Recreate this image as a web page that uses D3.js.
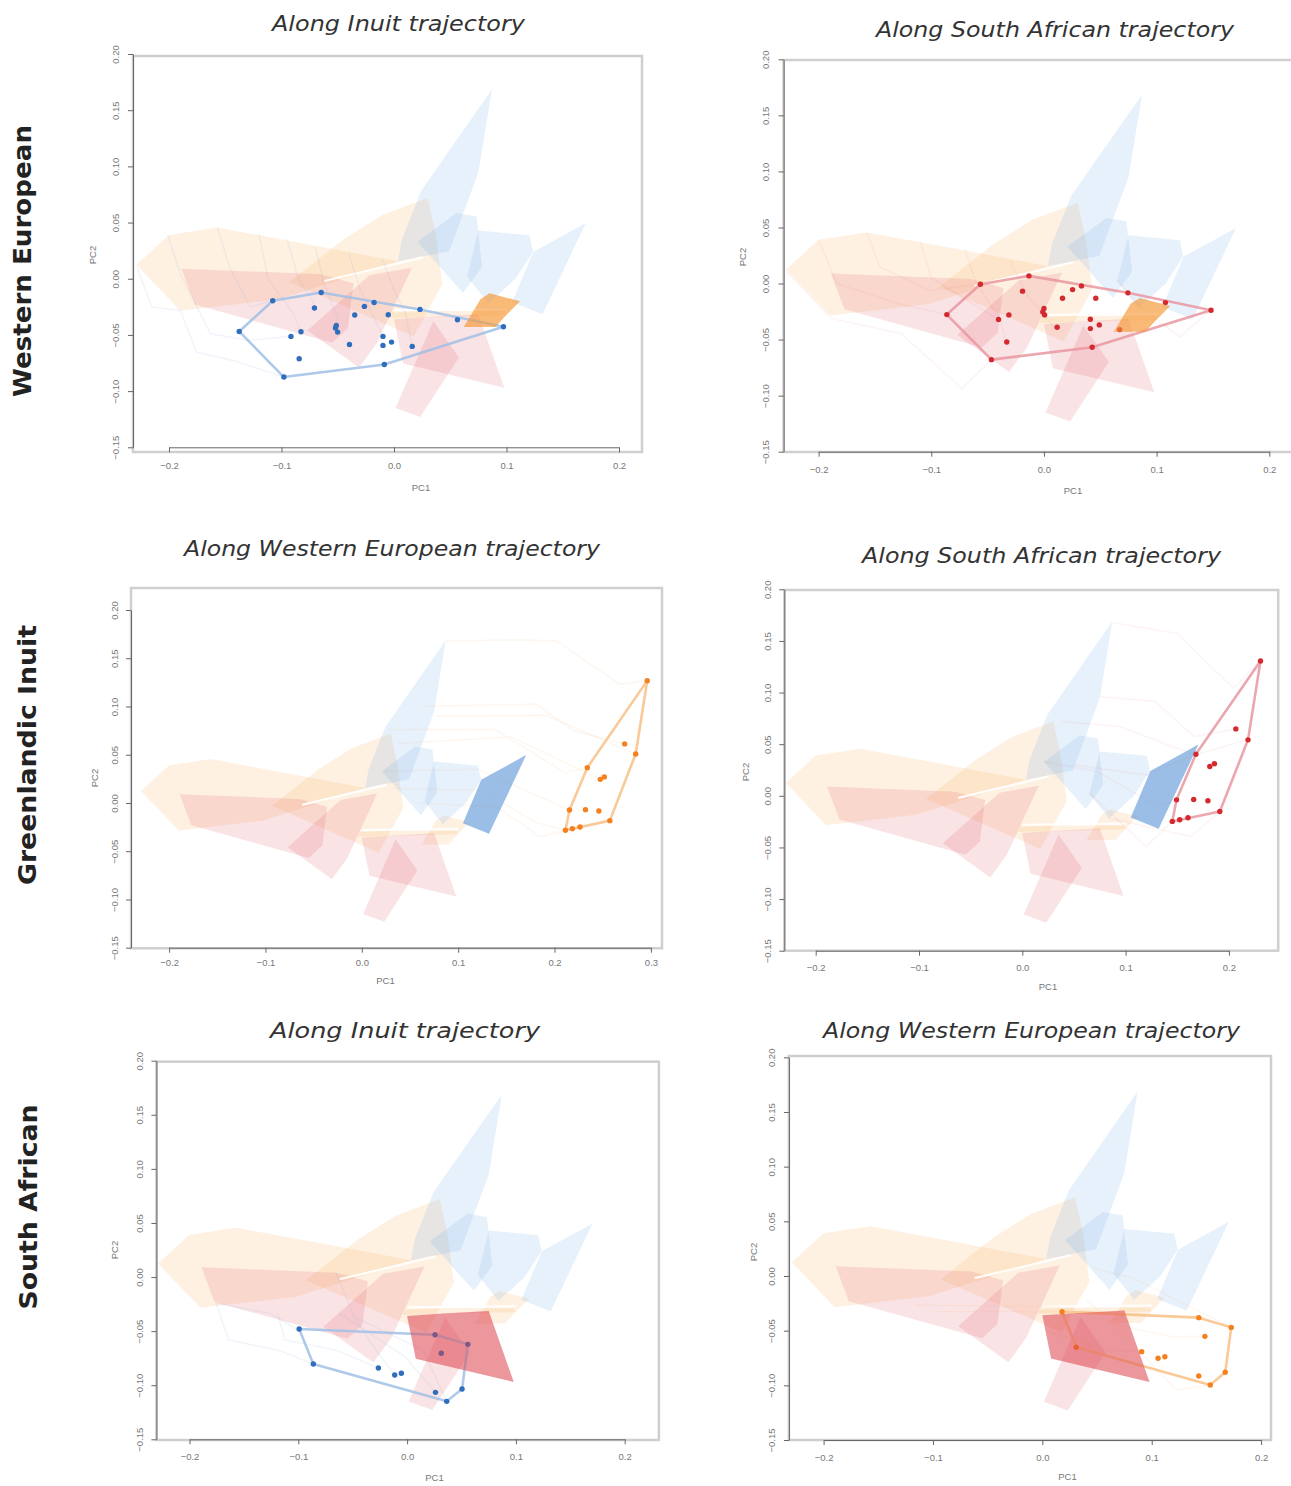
<!DOCTYPE html>
<html><head><meta charset="utf-8">
<script src="https://cdn.jsdelivr.net/npm/d3@7"></script>
<style>body{margin:0;background:#fff}</style>
</head><body><svg id="c" width="1291" height="1486"></svg>
<script>
// ---------------- DATA ----------------
const xTicksStd = [-0.2, -0.1, 0.0, 0.1, 0.2];
const xTicksWide = [-0.2, -0.1, 0.0, 0.1, 0.2, 0.3];
const yTicks = [-0.15, -0.10, -0.05, 0.00, 0.05, 0.10, 0.15, 0.20];
const rowLabels = ["Western European", "Greenlandic Inuit", "South African"];
const panelTitles = ["Along Inuit trajectory", "Along South African trajectory",
  "Along Western European trajectory", "Along South African trajectory",
  "Along Inuit trajectory", "Along Western European trajectory"];

// Convex hulls of the three groups (PC1, PC2)
const westernEuropeanHulls = [
  [[-0.229,0.0125],[-0.200,0.039],[-0.157,0.0455],[-0.089,0.033],[0.004,0.0155],[-0.103,-0.0184],[-0.190,-0.0285]],
  [[-0.093,-0.003],[-0.045,0.035],[-0.010,0.057],[0.030,0.072],[0.037,0.040],[0.043,-0.005],[0.0175,-0.0515]],
  [[-0.004,-0.035],[0.045,-0.034],[0.100,-0.0325],[0.098,-0.029],[0.040,-0.0285],[-0.002,-0.030]],
  [[0.062,-0.043],[0.077,-0.018],[0.085,-0.013],[0.112,-0.020],[0.100,-0.032],[0.090,-0.043]]
];
const southAfricanHulls = [
  [[-0.189,0.009],[-0.065,0.004],[-0.036,-0.004],[-0.041,-0.044],[-0.055,-0.057],[-0.177,-0.023]],
  [[-0.077,-0.046],[-0.022,0.003],[0.016,0.0097],[-0.015,-0.057],[-0.031,-0.079]],
  [[0.000,-0.036],[0.030,-0.034],[0.075,-0.0315],[0.098,-0.097],[0.008,-0.0755]],
  [[0.0014,-0.115],[0.035,-0.0375],[0.0577,-0.070],[0.0232,-0.123]]
];
const inuitHulls = [
  [[0.0871,0.1687],[0.075,0.0945],[0.049,0.0245],[0.0035,0.0155],[0.007,0.035],[0.0242,0.0784]],
  [[0.0208,0.033],[0.0555,0.0585],[0.0733,0.0555],[0.0783,0.0105],[0.0613,-0.0127]],
  [[0.065,0.002],[0.075,0.043],[0.1205,0.0387],[0.1237,0.024],[0.108,0.0],[0.084,-0.022]],
  [[0.1705,0.0496],[0.124,0.024],[0.105,-0.021],[0.132,-0.0318]]
];
const meanTrajectoryLines = [
  [[-0.062,-0.002],[0.026,0.019]],
  [[0.0,-0.028],[0.1,-0.027]]
];

// Projected specimens
const weAlongInuit = [[-0.1078,-0.0196],[-0.0647,-0.0122],[-0.0707,-0.0261],[-0.0263,-0.0246],[-0.0177,-0.0211],
  [-0.0349,-0.0323],[-0.0051,-0.032],[0.0231,-0.0273],[0.0564,-0.0365],[0.0973,-0.0427],[-0.1376,-0.0469],
  [-0.0916,-0.0513],[-0.0827,-0.0472],[-0.0513,-0.0415],[-0.052,-0.0439],[-0.0501,-0.0475],[-0.0396,-0.0585],
  [-0.0098,-0.0513],[-0.0098,-0.0593],[-0.0022,-0.0564],[0.0162,-0.0602],[-0.0843,-0.0712],[-0.0086,-0.0763],[-0.0979,-0.0875]];
const weAlongSouthAfrican = [[-0.0564,-0.0006],[-0.0133,0.0068],[-0.019,-0.0068],[0.0165,-0.0131],[0.0254,-0.0054],
  [0.0333,-0.0021],[0.046,-0.0131],[0.0745,-0.0083],[0.1078,-0.017],[0.1483,-0.0238],[-0.0862,-0.0277],[-0.0403,-0.0321],
  [-0.0311,-0.028],[0.0,-0.0223],[-0.001,-0.0253],[0.0006,-0.028],[0.0412,-0.0318],[0.0491,-0.0369],[0.0412,-0.0402],
  [0.0117,-0.039],[0.0672,-0.0411],[-0.033,-0.0521],[0.0428,-0.0568],[-0.0466,-0.0679]];
const inuitAlongWE = [[0.2962,0.1268],[0.2728,0.0612],[0.2842,0.0508],[0.234,0.0366],[0.2475,0.0245],[0.2517,0.027],
  [0.2155,-0.0073],[0.2321,-0.0069],[0.246,-0.0083],[0.2574,-0.0183],[0.2113,-0.0283],[0.2185,-0.0266],[0.2264,-0.0249]];
const inuitAlongSouthAfrican = [[0.2306,0.1306],[0.2067,0.0648],[0.2185,0.0542],[0.168,0.0403],[0.1815,0.0284],[0.186,0.031],
  [0.1493,-0.0039],[0.1659,-0.0035],[0.1797,-0.0048],[0.1912,-0.0152],[0.1452,-0.0248],[0.1524,-0.0232],[0.1604,-0.0213]];
const saAlongInuit = [[-0.0992,-0.0481],[-0.0862,-0.0804],[-0.0264,-0.0841],[-0.0114,-0.0906],[-0.0053,-0.089],
  [0.0257,-0.0533],[0.0558,-0.0622],[0.0314,-0.0705],[0.0261,-0.1066],[0.0505,-0.1035],[0.0364,-0.1149]];
const saAlongWE = [[0.018,-0.0326],[0.031,-0.0652],[0.0908,-0.0692],[0.1058,-0.0753],[0.112,-0.0738],[0.143,-0.0381],
  [0.1727,-0.047],[0.1486,-0.0552],[0.143,-0.0915],[0.1672,-0.0881],[0.1535,-0.0997]];

// Faint individual trajectories
const trajWeInuit = [
  [[-0.2285,0.0104],[-0.2152,-0.0252],[-0.1899,-0.0282],[-0.1756,-0.0653],[-0.1407,-0.0733],[-0.0979,-0.0875]],
  [[-0.201,0.0386],[-0.19,0.0045],[-0.163,-0.049],[-0.128,-0.0549],[-0.0916,-0.0513]],
  [[-0.157,0.0455],[-0.146,0.01],[-0.128,-0.025],[-0.1078,-0.0196]],
  [[-0.12,0.04],[-0.112,0.0],[-0.09,-0.03],[-0.0827,-0.0472]],
  [[-0.095,0.035],[-0.085,0.0],[-0.072,-0.02],[-0.0707,-0.0261]],
  [[-0.07,0.028],[-0.062,-0.005],[-0.05,-0.035],[-0.0513,-0.0415]],
  [[-0.04,0.022],[-0.03,-0.01],[-0.02,-0.03],[-0.0098,-0.0513]],
  [[-0.01,0.017],[0.0,-0.01],[0.01,-0.03],[0.0162,-0.0602]]
];
const trajWeSa = [
  [[-0.2282,0.0104],[-0.1886,-0.0313],[-0.1268,-0.0446],[-0.0729,-0.0938],[-0.0466,-0.0679]],
  [[-0.1997,0.0387],[-0.1838,0.0],[-0.13,-0.0179],[-0.0862,-0.0277]],
  [[-0.1569,0.0452],[-0.1458,0.0149],[-0.1014,-0.006],[-0.0564,-0.0006]],
  [[-0.11,0.038],[-0.1,0.005],[-0.06,-0.02],[-0.0403,-0.0321]],
  [[-0.07,0.03],[-0.06,0.0],[-0.04,-0.03],[-0.033,-0.0521]],
  [[0.065,0.003],[0.0856,-0.0208],[0.1204,-0.0476],[0.1483,-0.0238]],
  [[-0.03,0.02],[-0.015,-0.01],[0.01,-0.04],[0.0117,-0.039]]
];
const trajInuitWe = [
  [[0.0868,0.168],[0.160,0.169],[0.2019,0.168],[0.268,0.123],[0.2962,0.1268]],
  [[0.064,0.1003],[0.181,0.1024],[0.219,0.0754],[0.2728,0.0612]],
  [[0.077,0.09],[0.1906,0.091],[0.2842,0.0508]],
  [[0.0264,0.076],[0.1377,0.0764],[0.2113,0.0311],[0.234,0.0366]],
  [[0.0377,0.0616],[0.1547,0.0685],[0.2475,0.0245]],
  [[0.022,0.033],[0.12,0.035],[0.2155,-0.0073]],
  [[0.03,0.015],[0.125,0.013],[0.18,-0.02],[0.2113,-0.0283]],
  [[0.06,0.0],[0.14,-0.004],[0.185,-0.035],[0.2264,-0.0249]]
];
const trajInuitSa = [
  [[0.0871,0.1677],[0.1493,0.1574],[0.2046,0.1042],[0.2306,0.1306]],
  [[0.075,0.0961],[0.1286,0.0913],[0.1666,0.0574],[0.2067,0.0648]],
  [[0.0387,0.0719],[0.094,0.0671],[0.1666,0.0397],[0.2185,0.0542]],
  [[0.0207,0.033],[0.0726,0.0235],[0.1314,-0.0103],[0.1493,-0.0039]],
  [[0.0646,0.0026],[0.1199,-0.049],[0.1452,-0.0248]],
  [[0.0837,-0.0216],[0.1631,-0.0394],[0.1912,-0.0152]],
  [[0.05,0.03],[0.12,0.02],[0.168,0.0403]]
];
const trajSaInuit = [
  [[-0.1757,-0.0243],[-0.164,-0.0582],[-0.1189,-0.0675],[-0.0862,-0.0804]],
  [[-0.1757,-0.0243],[-0.1256,-0.0336],[-0.1006,-0.049],[-0.0992,-0.0481]],
  [[-0.1189,-0.0336],[-0.1123,-0.0582],[-0.0655,-0.0675],[-0.0264,-0.0841]],
  [[-0.0655,0.0049],[-0.0488,-0.0367],[-0.0287,-0.0675],[-0.0114,-0.0906]],
  [[-0.0622,-0.0336],[-0.002,-0.0736],[0.0261,-0.1066]],
  [[-0.0488,-0.0367],[0.0147,-0.0675],[0.0364,-0.1149]]
];
const trajSaWe = [
  [[-0.0963,-0.0326],[0.018,-0.0326]],
  [[-0.1159,-0.0265],[0.0082,-0.028],[0.0702,-0.0348],[0.143,-0.0381]],
  [[0.0473,0.007],[0.0833,-0.0021],[0.1224,-0.022],[0.1727,-0.047]],
  [[0.0408,-0.022],[0.0735,-0.0524],[0.1224,-0.1043],[0.1535,-0.0997]],
  [[0.0604,-0.0433],[0.1192,-0.0555],[0.1486,-0.0552]],
  [[0.0016,-0.0495],[0.0571,-0.0677],[0.0908,-0.0692]]
];

// ---------------- STYLE / LAYOUT ----------------
const palette = {
  orange: {light:"rgba(250,185,110,0.2)", dark:"rgba(245,150,50,0.6)", point:"#f5801e", hull:"rgba(248,195,140,0.9)", traj:"rgba(245,170,100,0.09)"},
  red:    {light:"rgba(225,90,100,0.17)", dark:"rgba(220,60,70,0.46)", point:"#d42a2f", hull:"rgba(233,150,160,0.85)", traj:"rgba(225,120,130,0.08)"},
  blue:   {light:"rgba(120,180,235,0.18)", dark:"rgba(80,140,210,0.5)", point:"#2f6ebd", hull:"rgba(160,192,230,0.85)", traj:"rgba(140,175,220,0.12)"}
};
const groups = {
  we:    {hulls: westernEuropeanHulls, col: "orange", finalIdx: 3},
  sa:    {hulls: southAfricanHulls, col: "red", finalIdx: 2},
  inuit: {hulls: inuitHulls, col: "blue", finalIdx: 3}
};

const panels = [
  {title:0, row:"we", along:"inuit", pts:weAlongInuit, traj:trajWeInuit, xt:xTicksStd,
   xr:[169,619], yr:[447.3,54], frame:[133,56,642,452], xAxisY:447.3, yAxisX:133, xLabY:466, yLabX:116,
   pc1:[421,491], pc2:[93,255], t:[398.5,31,253]},
  {title:1, row:"we", along:"sa", pts:weAlongSouthAfrican, traj:trajWeSa, xt:xTicksStd,
   xr:[818.6,1269.3], yr:[451.7,59.3], frame:[783.6,60,1300,452], xAxisY:451.7, yAxisX:783.6, xLabY:470, yLabX:766,
   pc1:[1073,494], pc2:[742.5,257], t:[1055,37,358]},
  {title:2, row:"inuit", along:"we", pts:inuitAlongWE, traj:trajInuitWe, xt:xTicksWide,
   xr:[169.1,650.9], yr:[947.7,610], frame:[131,588,662,948.3], xAxisY:947.7, yAxisX:131, xLabY:963, yLabX:114.5,
   pc1:[385.5,984], pc2:[95,778], t:[392,556,416]},
  {title:3, row:"inuit", along:"sa", pts:inuitAlongSouthAfrican, traj:trajInuitSa, xt:xTicksStd,
   xr:[815.7,1228.9], yr:[950.7,589.3], frame:[784.3,590,1278.2,950.7], xAxisY:950.7, yAxisX:784.3, xLabY:968.3, yLabX:767.5,
   pc1:[1048,990], pc2:[746,772], t:[1041.5,563,359]},
  {title:4, row:"sa", along:"inuit", pts:saAlongInuit, traj:trajSaInuit, xt:xTicksStd,
   xr:[189.5,624.7], yr:[1439.3,1060.7], frame:[156.4,1061.7,658.9,1440], xAxisY:1439.3, yAxisX:156.4, xLabY:1457, yLabX:139.3,
   pc1:[434.5,1481], pc2:[114.5,1250], t:[405,1038,270]},
  {title:5, row:"sa", along:"we", pts:saAlongWE, traj:trajSaWe, xt:xTicksStd,
   xr:[823.6,1261.1], yr:[1440,1057.3], frame:[788.9,1056,1271,1440], xAxisY:1440, yAxisX:788.9, xLabY:1458.3, yLabX:772,
   pc1:[1067.5,1480], pc2:[753.2,1252], t:[1031.5,1038,417]}
];
const rowLabelPos = [[22,261,272],[27,755,260],[28,1207,205]];

// ---------------- DRAW ----------------
const svg = d3.select("#c");
svg.append("rect").attr("width",1291).attr("height",1486).attr("fill","#fff");
const fmtX = d3.format(".1f"), fmtY = d3.format(".2f");

panels.forEach((P, i) => {
  const g = svg.append("g");
  const x = d3.scaleLinear().domain([P.xt[0], P.xt[P.xt.length-1]]).range(P.xr);
  const y = d3.scaleLinear().domain([-0.15, 0.20]).range(P.yr);
  const [fx0, fy0, fx1, fy1] = P.frame;
  const clipId = "clip" + i;
  g.append("clipPath").attr("id", clipId).append("rect")
    .attr("x", fx0).attr("y", fy0).attr("width", fx1 - fx0).attr("height", fy1 - fy0);
  const inner = g.append("g").attr("clip-path", `url(#${clipId})`);
  const line = d3.line().x(d => x(d[0])).y(d => y(d[1]));
  const poly = d => line(d) + "Z";

  ["we", "sa", "inuit"].forEach(k => {
    const G = groups[k];
    inner.append("g").selectAll("path").data(G.hulls).join("path")
      .attr("d", poly).attr("fill", palette[G.col].light).attr("stroke", "none");
  });
  inner.append("g").selectAll("path").data(meanTrajectoryLines).join("path")
    .attr("d", line).attr("fill", "none").attr("stroke", "#fff").attr("stroke-width", 2.2).attr("stroke-opacity", 0.9);

  const alongCol = palette[groups[P.along].col];
  inner.append("g").selectAll("path").data(P.traj).join("path")
    .attr("d", line).attr("fill", "none").attr("stroke", alongCol.traj).attr("stroke-width", 1.6);
  const hull = d3.polygonHull(P.pts);
  inner.append("path").attr("d", poly(hull)).attr("fill", "none")
    .attr("stroke", alongCol.hull).attr("stroke-width", 2.6).attr("stroke-linejoin", "round");
  inner.append("g").selectAll("circle").data(P.pts).join("circle")
    .attr("cx", d => x(d[0])).attr("cy", d => y(d[1])).attr("r", 2.7).attr("fill", alongCol.point);
  const RG = groups[P.row];
  inner.append("path").attr("d", poly(RG.hulls[RG.finalIdx]))
    .attr("fill", palette[RG.col].dark).attr("stroke", "none");

  g.append("rect").attr("x", fx0).attr("y", fy0).attr("width", fx1 - fx0).attr("height", fy1 - fy0)
    .attr("fill", "none").attr("stroke", "#cfcfcf").attr("stroke-width", 2.5);

  const xa = g.append("g").attr("transform", `translate(0,${P.xAxisY})`)
    .call(d3.axisBottom(x).tickValues(P.xt).tickSize(5).tickSizeOuter(0)
      .tickPadding(P.xLabY - P.xAxisY - 9).tickFormat(fmtX));
  const ya = g.append("g").attr("transform", `translate(${P.yAxisX},0)`)
    .call(d3.axisLeft(y).tickValues(yTicks).tickSize(5).tickSizeOuter(0).tickFormat(fmtY));
  [xa, ya].forEach(a => {
    a.select(".domain").attr("stroke", "#666");
    a.selectAll(".tick line").attr("stroke", "#666");
    a.selectAll("text").attr("fill", "#777").attr("font-size", 9.5)
      .attr("font-family", "Liberation Sans, Arial, sans-serif");
  });
  ya.selectAll(".tick text")
    .attr("transform", "rotate(-90)").attr("x", 0).attr("y", -(P.yAxisX - P.yLabX))
    .attr("dy", "0.35em").attr("text-anchor", "middle");

  g.append("text").attr("x", P.pc1[0]).attr("y", P.pc1[1]).attr("text-anchor", "middle")
    .attr("font-size", 9.5).attr("fill", "#777").attr("font-family", "Liberation Sans, Arial, sans-serif").text("PC1");
  g.append("text").attr("transform", `translate(${P.pc2[0]},${P.pc2[1]}) rotate(-90)`)
    .attr("text-anchor", "middle").attr("dy", "0.35em")
    .attr("font-size", 9.5).attr("fill", "#777").attr("font-family", "Liberation Sans, Arial, sans-serif").text("PC2");

  g.append("text").attr("x", P.t[0]).attr("y", P.t[1]).attr("text-anchor", "middle")
    .attr("font-family", "DejaVu Sans, Verdana, sans-serif").attr("font-style", "italic")
    .attr("font-size", 22).attr("fill", "#333")
    .attr("textLength", P.t[2]).attr("lengthAdjust", "spacingAndGlyphs")
    .text(panelTitles[P.title]);
});

rowLabels.forEach((lab, i) => {
  const [cx, cy, len] = rowLabelPos[i];
  svg.append("text").attr("transform", `translate(${cx},${cy}) rotate(-90)`)
    .attr("text-anchor", "middle").attr("dy", "0.35em")
    .attr("font-family", "DejaVu Sans, Verdana, sans-serif").attr("font-weight", "bold")
    .attr("font-size", 25).attr("fill", "#222")
    .attr("textLength", len).attr("lengthAdjust", "spacingAndGlyphs")
    .text(lab);
});
</script></body></html>
